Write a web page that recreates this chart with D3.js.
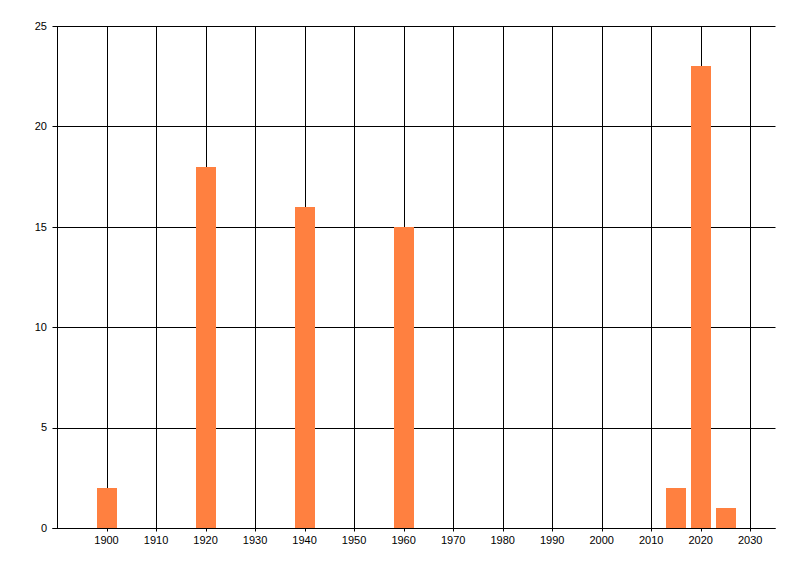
<!DOCTYPE html>
<html>
<head>
<meta charset="utf-8">
<script src="https://cdn.jsdelivr.net/npm/d3@7"></script>
<style>
  body { margin: 0; background: #fff; }
  svg text { font-family: "Liberation Sans", Arial, sans-serif; font-size: 11px; fill: #000; }
</style>
</head>
<body>
<svg id="chart" width="800" height="576"></svg>
<script>
// data
let years = [1900, 1920, 1940, 1960, 2015, 2020, 2025];
let counts = [2, 18, 16, 15, 2, 23, 1];
let xTicks = d3.range(1900, 2031, 10);
let yTicks = [0, 5, 10, 15, 20, 25];

init();
function init(){
    let svg = d3.select("#chart");
    let x = d3.scaleLinear().domain([1890, 2035]).range([57, 775]);
    let y = d3.scaleLinear().domain([0, 25]).range([528, 26]);
    let px = v => Math.round(v) + 0.5;

    //网格
    let grid = svg.append("g").attr("stroke", "#000").attr("stroke-width", 1);
    grid.selectAll("line.v")
        .data(xTicks)
        .enter()
        .append("line")
        .attr("class", "v")
        .attr("x1", d => px(x(d)))
        .attr("x2", d => px(x(d)))
        .attr("y1", px(y(25)))
        .attr("y2", px(y(0)) + 3);
    grid.selectAll("line.h")
        .data(yTicks)
        .enter()
        .append("line")
        .attr("class", "h")
        .attr("x1", px(x(1890)) - 5)
        .attr("x2", px(x(2035)))
        .attr("y1", d => px(y(d)))
        .attr("y2", d => px(y(d)));

    //柱子
    let bw = x(1904) - x(1900);
    svg.append("g")
        .selectAll("rect")
        .data(years)
        .enter()
        .append("rect")
        .attr("x", d => Math.round(x(d) - bw / 2))
        .attr("width", Math.round(bw))
        .attr("y", (d, i) => Math.round(y(counts[i])))
        .attr("height", (d, i) => Math.round(y(0)) - Math.round(y(counts[i])))
        .attr("fill", "#ff8040");

    //坐标轴线
    svg.append("line")
        .attr("x1", px(x(1890))).attr("x2", px(x(1890)))
        .attr("y1", px(y(25))).attr("y2", px(y(0)))
        .attr("stroke", "#000");
    svg.append("line")
        .attr("x1", px(x(1890)) - 5).attr("x2", px(x(2035)))
        .attr("y1", px(y(0))).attr("y2", px(y(0)))
        .attr("stroke", "#000");

    //标签
    svg.append("g")
        .selectAll("text")
        .data(xTicks)
        .enter()
        .append("text")
        .attr("text-anchor", "middle")
        .attr("x", d => x(d))
        .attr("y", y(0) + 16)
        .text(d => d);
    svg.append("g")
        .selectAll("text")
        .data(yTicks)
        .enter()
        .append("text")
        .attr("text-anchor", "end")
        .attr("dy", ".35em")
        .attr("x", x(1890) - 10)
        .attr("y", d => y(d))
        .text(d => d);
}
</script>
</body>
</html>
